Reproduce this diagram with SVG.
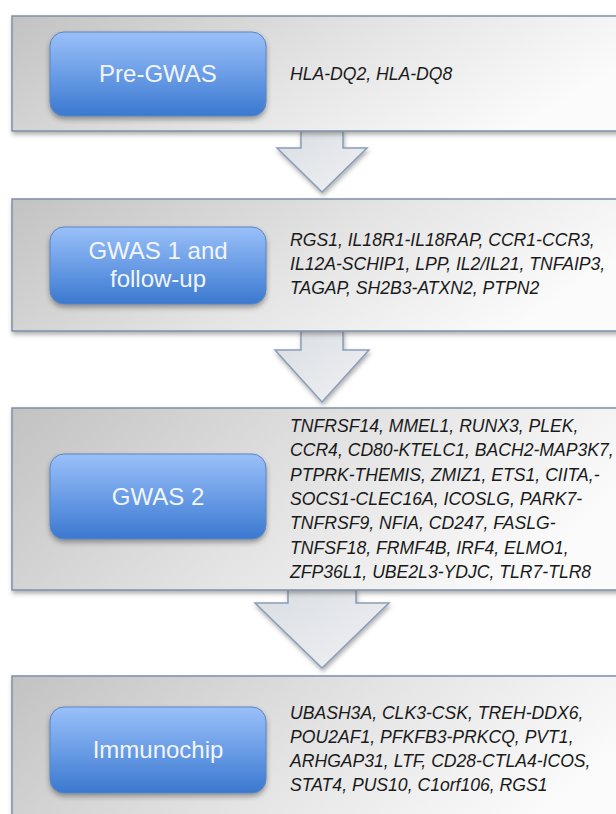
<svg xmlns="http://www.w3.org/2000/svg" width="616" height="814" viewBox="0 0 616 814">
<defs>
<linearGradient id="pg" x1="0" y1="0" x2="1" y2="0.3">
<stop offset="0" stop-color="#c2c2c2"/>
<stop offset="0.55" stop-color="#e4e4e4"/>
<stop offset="1" stop-color="#fbfbfb"/>
</linearGradient>
<linearGradient id="bg" x1="0" y1="0" x2="0" y2="1">
<stop offset="0" stop-color="#9ac0f9"/>
<stop offset="0.5" stop-color="#6a9de6"/>
<stop offset="1" stop-color="#3b78cf"/>
</linearGradient>
<linearGradient id="ag" x1="0" y1="0" x2="1" y2="1">
<stop offset="0" stop-color="#d9dce1"/>
<stop offset="1" stop-color="#f0f2f5"/>
</linearGradient>
<filter id="sh" x="-10%" y="-10%" width="130%" height="140%">
<feDropShadow dx="1" dy="3" stdDeviation="2" flood-color="#555" flood-opacity="0.45"/>
</filter>
<filter id="bsh" x="-10%" y="-10%" width="130%" height="140%">
<feDropShadow dx="0" dy="3" stdDeviation="2.5" flood-color="#333" flood-opacity="0.45"/>
</filter>
</defs>
<style>
.panel{fill:url(#pg);stroke:#7e90a8;stroke-width:1.5;filter:url(#sh)}
.btn{fill:url(#bg);stroke:#5a86c2;stroke-width:1;filter:url(#bsh)}
.bt{font-family:"Liberation Sans",Arial,sans-serif;font-size:24px;fill:#f2f6fc;text-anchor:middle}
.gt{font-family:"Liberation Sans",Arial,sans-serif;font-size:17.6px;font-style:italic;fill:#1a1a1a}
.arr{fill:url(#ag);stroke:#8a9db8;stroke-width:1.5;stroke-linejoin:miter;filter:url(#sh)}
</style>
<rect width="616" height="814" fill="#ffffff"/>

<g id="connectors">
<path class="arr" d="M301,129 V148 H277 L322,192 L367,148 H343 V129"/>
<path class="arr" d="M301,329 V350 H275 L322,402 L369,350 H343 V329"/>
<path class="arr" d="M288,588 V603 H255 L322,668 L389,603 H356 V588"/>
</g>

<g id="pre-gwas">
<rect class="panel" x="12" y="16" width="640" height="115"/>
<rect class="btn" x="50" y="32" width="216" height="84" rx="14"/>
<text class="bt" x="158" y="82">Pre-GWAS</text>
<text class="gt" x="290" y="80">HLA-DQ2, HLA-DQ8</text>
</g>

<g id="gwas1">
<rect class="panel" x="12" y="199" width="640" height="132"/>
<rect class="btn" x="50" y="227" width="216" height="77" rx="14"/>
<text class="bt" x="158" y="259">GWAS 1 and</text>
<text class="bt" x="158" y="287">follow-up</text>
<text class="gt" x="290" y="246">RGS1, IL18R1-IL18RAP, CCR1-CCR3,</text>
<text class="gt" x="290" y="270">IL12A-SCHIP1, LPP, IL2/IL21, TNFAIP3,</text>
<text class="gt" x="290" y="294">TAGAP, SH2B3-ATXN2, PTPN2</text>
</g>

<g id="gwas2">
<rect class="panel" x="12" y="408" width="640" height="182"/>
<rect class="btn" x="50" y="454" width="216" height="85" rx="14"/>
<text class="bt" x="158" y="505">GWAS 2</text>
<text class="gt" x="290" y="432">TNFRSF14, MMEL1, RUNX3, PLEK,</text>
<text class="gt" x="290" y="456">CCR4, CD80-KTELC1, BACH2-MAP3K7,</text>
<text class="gt" x="290" y="481">PTPRK-THEMIS, ZMIZ1, ETS1, CIITA,-</text>
<text class="gt" x="290" y="505">SOCS1-CLEC16A, ICOSLG, PARK7-</text>
<text class="gt" x="290" y="529">TNFRSF9, NFIA, CD247, FASLG-</text>
<text class="gt" x="290" y="554">TNFSF18, FRMF4B, IRF4, ELMO1,</text>
<text class="gt" x="290" y="578">ZFP36L1, UBE2L3-YDJC, TLR7-TLR8</text>
</g>

<g id="immunochip">
<rect class="panel" x="12" y="676" width="640" height="160"/>
<rect class="btn" x="50" y="707" width="216" height="86" rx="14"/>
<text class="bt" x="158" y="758">Immunochip</text>
<text class="gt" x="290" y="719">UBASH3A, CLK3-CSK, TREH-DDX6,</text>
<text class="gt" x="290" y="743">POU2AF1, PFKFB3-PRKCQ, PVT1,</text>
<text class="gt" x="290" y="767">ARHGAP31, LTF, CD28-CTLA4-ICOS,</text>
<text class="gt" x="290" y="791">STAT4, PUS10, C1orf106, RGS1</text>
</g>
</svg>
